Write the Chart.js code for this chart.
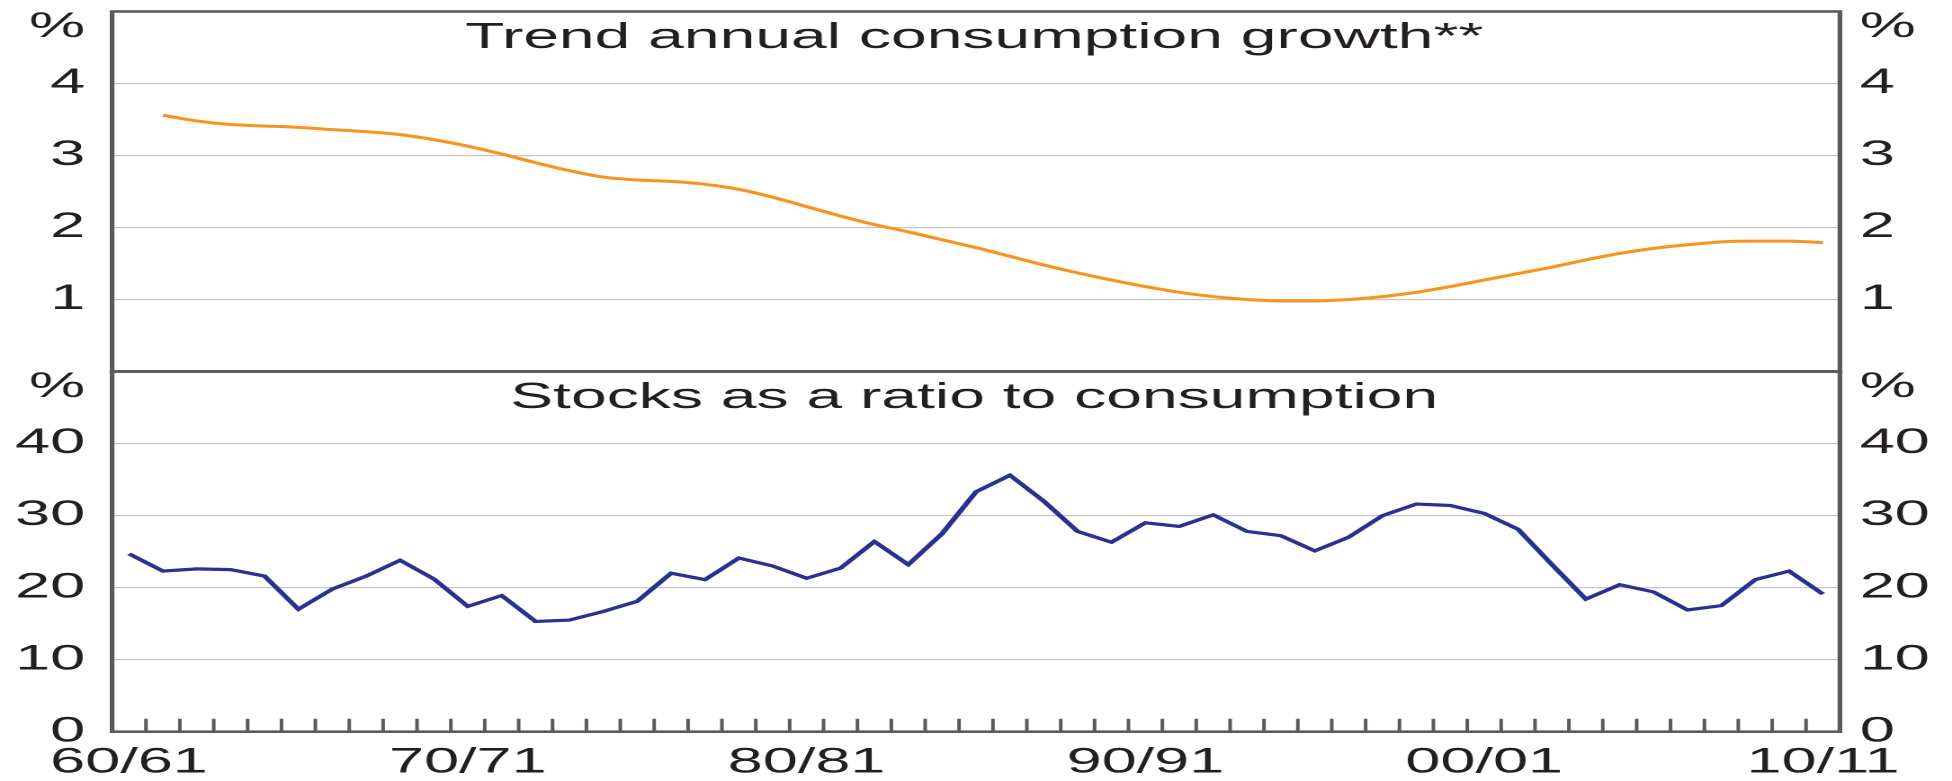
<!DOCTYPE html>
<html>
<head>
<meta charset="utf-8">
<script src="https://cdn.jsdelivr.net/npm/chart.js@4.4.1/dist/chart.umd.min.js"></script>
<style>
  html, body { margin: 0; padding: 0; background: #fff; }
  #wrap { position: relative; width: 1952px; height: 781px; overflow: hidden; }
  canvas { position: absolute; left: 0; }
</style>
</head>
<body>
<div id="wrap">
  <canvas id="topChart" width="1085" height="390" style="top:0;width:1952px;height:390px"></canvas>
  <canvas id="bottomChart" width="1085" height="421" style="top:360px;width:1952px;height:421px"></canvas>
</div>
<script>
// Data
const years = ['60/61', '61/62', '62/63', '63/64', '64/65', '65/66', '66/67', '67/68', '68/69', '69/70',
  '70/71', '71/72', '72/73', '73/74', '74/75', '75/76', '76/77', '77/78', '78/79', '79/80',
  '80/81', '81/82', '82/83', '83/84', '84/85', '85/86', '86/87', '87/88', '88/89', '89/90',
  '90/91', '91/92', '92/93', '93/94', '94/95', '95/96', '96/97', '97/98', '98/99', '99/00',
  '00/01', '01/02', '02/03', '03/04', '04/05', '05/06', '06/07', '07/08', '08/09', '09/10', '10/11'];

const growthTrend = [null, 3.56, 3.48, 3.43, 3.41, 3.39, 3.36, 3.33, 3.29, 3.22,
  3.13, 3.02, 2.90, 2.79, 2.70, 2.66, 2.64, 2.60, 2.53, 2.42,
  2.29, 2.16, 2.04, 1.94, 1.83, 1.72, 1.60, 1.48, 1.37, 1.27,
  1.18, 1.10, 1.04, 1.00, 0.98, 0.98, 1.00, 1.04, 1.10, 1.18,
  1.27, 1.36, 1.45, 1.55, 1.64, 1.71, 1.76, 1.80, 1.81, 1.81, 1.79];

const stocksRatio = [24.7, 22.3, 22.6, 22.5, 21.6, 17.0, 19.8, 21.6, 23.8, 21.2,
  17.4, 18.9, 15.3, 15.5, 16.7, 18.1, 22.0, 21.1, 24.1, 23.0,
  21.3, 22.7, 26.4, 23.2, 27.5, 33.3, 35.6, 32.0, 27.8, 26.3,
  29.0, 28.5, 30.1, 27.8, 27.2, 25.1, 27.0, 30.0, 31.6, 31.4,
  30.3, 28.1, 23.2, 18.4, 20.4, 19.4, 16.9, 17.5, 21.1, 22.3, 19.1];

const growthMax = 5, growthStep = 1;
const stocksMax = 50, stocksStep = 10;
const labelEvery = 10;

// Styles
const FONT = '"Liberation Sans", Arial, Helvetica, sans-serif';
const TEXT = '#231f20';
const FRAME = '#5a5a5a';
const GRID = '#c8c8c8';
const ORANGE = '#f7931e';
const BLUE = '#2b3190';
const tickFont = { family: FONT, size: 35, lineHeight: 0.914 };

function yAxis(pos, max, step, hideZero) {
  return {
    position: pos,
    min: 0,
    max: max,
    afterFit: s => { s.width = 62.3; s.paddingTop = 0; s.paddingBottom = 0; },
    border: { display: false },
    grid: { display: pos === 'left', color: GRID, lineWidth: 1.2, drawTicks: false },
    ticks: {
      stepSize: step,
      autoSkip: false,
      padding: pos === 'left' ? 15 : 11,
      color: TEXT,
      font: tickFont,
      callback: v => v === max ? ['', '%'] : (v === 0 && hideZero ? '' : String(v))
    }
  };
}

// Frame, panel title and inward tick marks
const panelPlugin = {
  id: 'panel',
  afterDatasetsDraw(chart, args, opts) {
    const { ctx, chartArea: a } = chart;
    ctx.save();
    ctx.strokeStyle = FRAME;
    ctx.lineWidth = 2.6;
    ctx.strokeRect(a.left, a.top, a.width, a.height);
    if (opts.ticks) {
      const x = chart.scales.x;
      ctx.lineWidth = 2;
      ctx.beginPath();
      for (let i = 1; i < x.ticks.length; i++) {
        const px = (x.getPixelForTick(i - 1) + x.getPixelForTick(i)) / 2;
        ctx.moveTo(px, a.bottom);
        ctx.lineTo(px, a.bottom - 13);
      }
      ctx.stroke();
    }
    ctx.fillStyle = TEXT;
    ctx.font = '35.7px ' + FONT;
    ctx.textAlign = 'center';
    ctx.textBaseline = 'alphabetic';
    ctx.fillText(opts.title, (a.left + a.right) / 2 - 1, a.top + 36.4);
    ctx.restore();
  }
};

new Chart(document.getElementById('topChart'), {
  type: 'line',
  data: {
    labels: years,
    datasets: [{
      data: growthTrend,
      borderColor: ORANGE,
      borderWidth: 3,
      pointRadius: 0,
      cubicInterpolationMode: 'monotone',
      fill: false
    }]
  },
  options: {
    responsive: false,
    animation: false,
    devicePixelRatio: 2,
    layout: { padding: { top: 11.5, bottom: 18.5, left: 0, right: 0 } },
    plugins: {
      legend: { display: false },
      tooltip: { enabled: false },
      panel: { title: 'Trend annual consumption growth**', ticks: false }
    },
    scales: {
      x: { display: false, offset: true },
      y: yAxis('left', growthMax, growthStep, true),
      y2: yAxis('right', growthMax, growthStep, true)
    }
  },
  plugins: [panelPlugin]
});

new Chart(document.getElementById('bottomChart'), {
  type: 'line',
  data: {
    labels: years,
    datasets: [{
      data: stocksRatio,
      borderColor: BLUE,
      borderWidth: 3.2,
      pointRadius: 0,
      tension: 0,
      fill: false
    }]
  },
  options: {
    responsive: false,
    animation: false,
    devicePixelRatio: 2,
    layout: { padding: { top: 11.5, bottom: 0, left: 0, right: 0 } },
    plugins: {
      legend: { display: false },
      tooltip: { enabled: false },
      panel: { title: 'Stocks as a ratio to consumption', ticks: true }
    },
    scales: {
      x: {
        offset: true,
        afterFit: s => { s.height = 49.3; s.paddingLeft = 0; s.paddingRight = 0; },
        border: { display: false },
        grid: { display: false, drawTicks: false },
        ticks: {
          autoSkip: false,
          maxRotation: 0,
          padding: 15,
          color: TEXT,
          font: tickFont,
          callback: (v, i) => i % labelEvery === 0 ? years[i] : ''
        }
      },
      y: yAxis('left', stocksMax, stocksStep, false),
      y2: yAxis('right', stocksMax, stocksStep, false)
    }
  },
  plugins: [panelPlugin]
});
</script>
</body>
</html>
